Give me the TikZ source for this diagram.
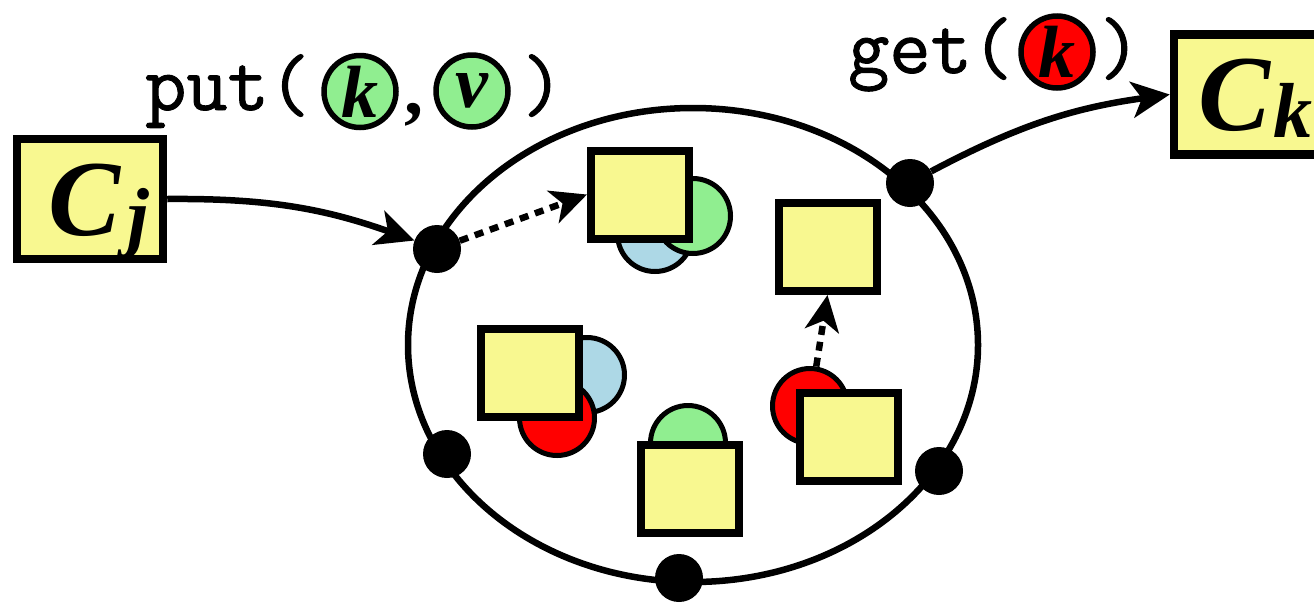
\documentclass[tikz,border=0pt]{standalone}
\usepackage{fontspec}
\newfontfamily\tms{Liberation Serif}
\newfontfamily\monof[FakeBold=1.2]{Latin Modern Mono}
\usetikzlibrary{arrows.meta}
\definecolor{boxyellow}{RGB}{248,248,144}
\definecolor{lgreen}{RGB}{144,238,144}
\definecolor{lblue}{RGB}{173,216,230}
\definecolor{kred}{RGB}{255,0,0}
\tikzset{
  sq/.style={draw, line width=8pt, fill=boxyellow, minimum width=98pt, minimum height=88pt, inner sep=0pt},
  client/.style={draw, line width=8.5pt, fill=boxyellow, minimum width=146pt, minimum height=120pt, inner sep=0pt,
    text height=72pt, text depth=0pt, font=\tms\bfseries\itshape\fontsize{108}{112}\selectfont},
  ball/.style={circle, draw, line width=5pt, minimum size=75pt, inner sep=0pt},
  lbl/.style={circle, draw, line width=5.5pt, minimum size=72pt, inner sep=0pt, font=\tms\bfseries\itshape\fontsize{74}{76}\selectfont},
  port/.style={circle, fill=black, minimum size=48pt, inner sep=0pt},
  conn/.style={line width=6.5pt, -{Stealth[length=38pt, width=36pt, inset=10pt]}},
  dotconn/.style={line width=6.5pt, dash pattern=on 9pt off 7pt, -{Stealth[length=36pt, width=34pt, inset=10pt]}},
  mono/.style={font=\monof\fontsize{80}{80}\selectfont, inner sep=0pt, anchor=base},
}
\newcommand{\clname}[3]{\makebox[0pt][l]{\kern#1pt C\kern#2pt\raisebox{-7pt}{\fontsize{78}{80}\selectfont #3}}}
\begin{document}
\begin{tikzpicture}[x=1pt,y=-1pt]
\useasboundingbox (0,0) rectangle (1314,603);
% store
\draw[line width=6.5pt] (693,345) ellipse [x radius=285pt, y radius=237pt];
% stored items
\node[ball, fill=lblue] (bA) at (655,234) {};
\node[ball, fill=lgreen] (gA) at (693,216) {};
\node[sq] (A) at (640,194.5) {};
\node[sq] (B) at (827.5,247) {};
\node[ball, fill=lblue] (bC) at (587,375) {};
\node[ball, fill=kred] (rC) at (557,418) {};
\node[sq] (C) at (530,372.5) {};
\node[ball, fill=lgreen] (gD) at (688,443) {};
\node[sq] (D) at (690,488.5) {};
\node[ball, fill=kred] (rE) at (810,406) {};
\node[sq] (E) at (849,436.5) {};
% ports
\node[port] (d1) at (437,249) {};
\node[port] (d2) at (910,183) {};
\node[port] (d3) at (447,454) {};
\node[port] (d4) at (939,471) {};
\node[port] (d5) at (679,578) {};
% clients
\node[client] (cj) at (90,199) {\clname{-42}{7}{j}};
\node[client] (ck) at (1247,94.5) {\clname{-49}{3}{k}};
% connectors
\draw[conn] (cj.east) to[bend left=10] (d1);
\draw[conn] (d2) to[bend left=10] (ck.west);
\draw[dotconn] (d1) -- (A.west);
\draw[dotconn] (rE) -- (B.south);
% labels
\node[mono, anchor=base west] (put) at (145,110) {put(};
\node[lbl, fill=lgreen] (pk) at (360,91.5) {k};
\node[font=\tms\bfseries\fontsize{76}{78}\selectfont, inner sep=0pt, anchor=base] (comma) at (414,114) {,};
\node[lbl, fill=lgreen] (pv) at (472,91) {v};
\node[mono] (pclose) at (543,110) {)};
\node[mono, anchor=base west] (get) at (848,73) {get(};
\node[lbl, fill=kred] (gk) at (1057,52) {k};
\node[mono] (gclose) at (1120,73) {)};
\end{tikzpicture}
\end{document}
